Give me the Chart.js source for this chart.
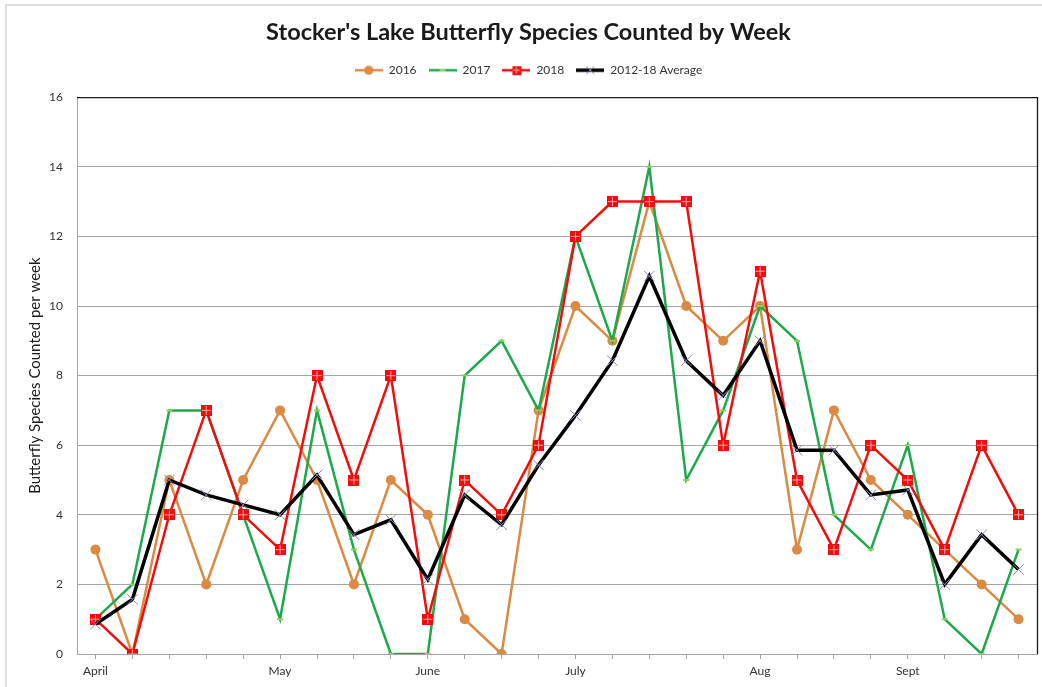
<!DOCTYPE html>
<html>
<head>
<meta charset="utf-8">
<script src="https://cdn.jsdelivr.net/npm/chart.js@4/dist/chart.umd.min.js"></script>
<style>
html,body{margin:0;padding:0;background:#fff;}
#wrap{width:1042px;height:687px;position:relative;}
</style>
</head>
<body>
<div id="wrap"><canvas id="c" width="1042" height="687"></canvas></div>
<script>
const weekLabels = ['April','','','','','May','','','','June','','','','July','','','','','Aug','','','','Sept','','',''];
const y2016 = [3,0,5,2,5,7,5,2,5,4,1,0,7,10,9,13,10,9,10,3,7,5,4,3,2,1];
const y2017 = [1,2,7,7,4,1,7,3,0,0,8,9,7,12,9,14,5,7,10,9,4,3,6,1,0,3];
const y2018 = [1,0,4,7,4,3,8,5,8,1,5,4,6,12,13,13,13,6,11,5,3,6,5,3,6,4];
const yAvg = [0.857,1.571,5.0,4.571,4.286,4.0,5.143,3.429,3.857,2.143,4.571,3.714,5.429,6.857,8.429,10.857,8.429,7.429,9.0,5.857,5.857,4.571,4.714,2.0,3.429,2.429];
const seriesNames = ['2016','2017','2018','2012-18 Average'];
const yTicks = [0,2,4,6,8,10,12,14,16];

const C16 = '#DA8A43', C17 = '#1BA94C', C18 = '#F20D0D', CAVG = '#000000';

function redSquare(size){
  const c = document.createElement('canvas'); c.width = size; c.height = size;
  const g = c.getContext('2d');
  g.fillStyle = C18; g.fillRect(0,0,size,size);
  g.fillStyle = '#F7A6A6';
  const m = Math.floor(size/2);
  g.fillRect(m,1,1,size-2); g.fillRect(1,m,size-2,1);
  return c;
}
function legendIcon(kind){
  const w = 28, h = 14;
  const c = document.createElement('canvas'); c.width = w; c.height = h;
  const g = c.getContext('2d');
  const cy = h/2;
  const col = kind===0?C16:kind===1?C17:kind===2?C18:CAVG;
  g.strokeStyle = col; g.lineWidth = kind===3?3.5:2.5;
  g.beginPath(); g.moveTo(0,cy); g.lineTo(w,cy); g.stroke();
  if(kind===0){ g.fillStyle=C16; g.beginPath(); g.arc(w/2,cy,4.5,0,Math.PI*2); g.fill(); }
  if(kind===1){ g.strokeStyle='#8ED05A'; g.lineWidth=2; g.beginPath(); g.moveTo(w/2-3,cy); g.lineTo(w/2+3,cy); g.stroke(); }
  if(kind===2){ g.drawImage(redSquare(9), w/2-4.5, cy-4.5); }
  if(kind===3){ g.strokeStyle='#8A8AB0'; g.lineWidth=1; g.beginPath(); g.moveTo(w/2-4,cy-4); g.lineTo(w/2+4,cy+4); g.moveTo(w/2+4,cy-4); g.lineTo(w/2-4,cy+4); g.stroke(); }
  return c;
}
const legendIcons = [0,1,2,3].map(legendIcon);
const sq = redSquare(11);

const framePlugin = {
  id:'frame',
  beforeDraw(chart){
    const {ctx} = chart;
    ctx.save();
    ctx.fillStyle='#fff'; ctx.fillRect(0,0,chart.width,chart.height);
    ctx.strokeStyle='#D4D4D4'; ctx.lineWidth=1.5;
    ctx.strokeRect(6,5,1200,1200);
    ctx.restore();
  },
  afterDatasetsDraw(chart){
    const {ctx, chartArea:a} = chart;
    ctx.save();
    ctx.strokeStyle='#1a1a1a'; ctx.lineWidth=1.3;
    ctx.beginPath();
    ctx.moveTo(a.left, a.top+0.5); ctx.lineTo(a.right+0.5, a.top+0.5); ctx.lineTo(a.right+0.5, a.bottom);
    ctx.stroke();
    ctx.restore();
  }
};

const spacerPlugin = {
  id:'spacer',
  beforeInit(chart){
    const box = {
      position:'top', weight:500, fullSize:true,
      options:{position:'top', weight:500, fullSize:true},
      top:0,left:0,right:0,bottom:0,width:0,height:0,
      isHorizontal(){ return true; },
      update(maxWidth){ this.width = maxWidth; this.height = 11; return {width:this.width,height:this.height}; },
      draw(){}
    };
    Chart.layouts.addBox(chart, box);
  }
};

new Chart(document.getElementById('c'), {
  type:'line',
  data:{
    labels: weekLabels,
    datasets:[
      {label:seriesNames[0], data:y2016, borderColor:C16, backgroundColor:C16, borderWidth:2.5, pointStyle:'circle', pointRadius:5, pointBackgroundColor:C16, pointBorderWidth:0, order:3, tension:0},
      {label:seriesNames[1], data:y2017, borderColor:C17, backgroundColor:C17, borderWidth:2.5, pointStyle:'line', pointRadius:3, pointBorderColor:'#8ED05A', pointBorderWidth:2, order:2, tension:0},
      {label:seriesNames[2], data:y2018, borderColor:C18, backgroundColor:C18, borderWidth:2.5, pointStyle:sq, order:1, tension:0},
      {label:seriesNames[3], data:yAvg, borderColor:CAVG, backgroundColor:CAVG, borderWidth:3.5, pointStyle:'crossRot', pointRadius:7.5, pointBorderColor:'#8A8AB0', pointBorderWidth:1, order:0, tension:0}
    ]
  },
  options:{
    responsive:false,
    animation:false,
    layout:{autoPadding:false, padding:{left:20, right:5, top:0, bottom:0}},
    plugins:{
      tooltip:{enabled:false},
      title:{display:true, text:"Stocker's Lake Butterfly Species Counted by Week", color:'#1a1a1a',
        font:{family:'Lato', size:23.5, weight:'bold'}, padding:{top:18, bottom:6}},
      legend:{display:true, position:'top',
        labels:{usePointStyle:true, pointStyleWidth:28, boxHeight:12, color:'#333', padding:12,
          font:{family:'Lato', size:12},
          sort:(a,b)=>a.datasetIndex-b.datasetIndex,
          generateLabels(chart){
            const items = Chart.defaults.plugins.legend.labels.generateLabels(chart);
            items.forEach(it=>{ it.pointStyle = legendIcons[it.datasetIndex]; });
            return items;
          }
        }
      }
    },
    scales:{
      x:{
        type:'category', offset:true,
        grid:{display:true, drawOnChartArea:false, drawTicks:true, tickLength:5, color:'#A6A6A6'},
        border:{display:true, color:'#A6A6A6', width:1},
        ticks:{autoSkip:false, maxRotation:0, minRotation:0, padding:5, color:'#333', font:{family:'Lato', size:12}},
        afterFit(s){ s.height = 33; s.paddingLeft = 0; s.paddingRight = 0; }
      },
      y:{
        min:0, max:16,
        afterBuildTicks(s){ s.ticks = yTicks.map(v=>({value:v})); },
        grid:{color:'#A6A6A6', drawTicks:false, lineWidth:1},
        border:{display:true, color:'#A6A6A6', width:1},
        ticks:{padding:14, color:'#333', font:{family:'Lato', size:12}},
        title:{display:true, text:'Butterfly Species Counted per week', color:'#1a1a1a', font:{family:'Lato', size:15}, padding:{top:6, bottom:0}},
        afterFit(s){ s.width = 57; }
      }
    }
  },
  plugins:[framePlugin, spacerPlugin]
});
</script>
</body>
</html>
